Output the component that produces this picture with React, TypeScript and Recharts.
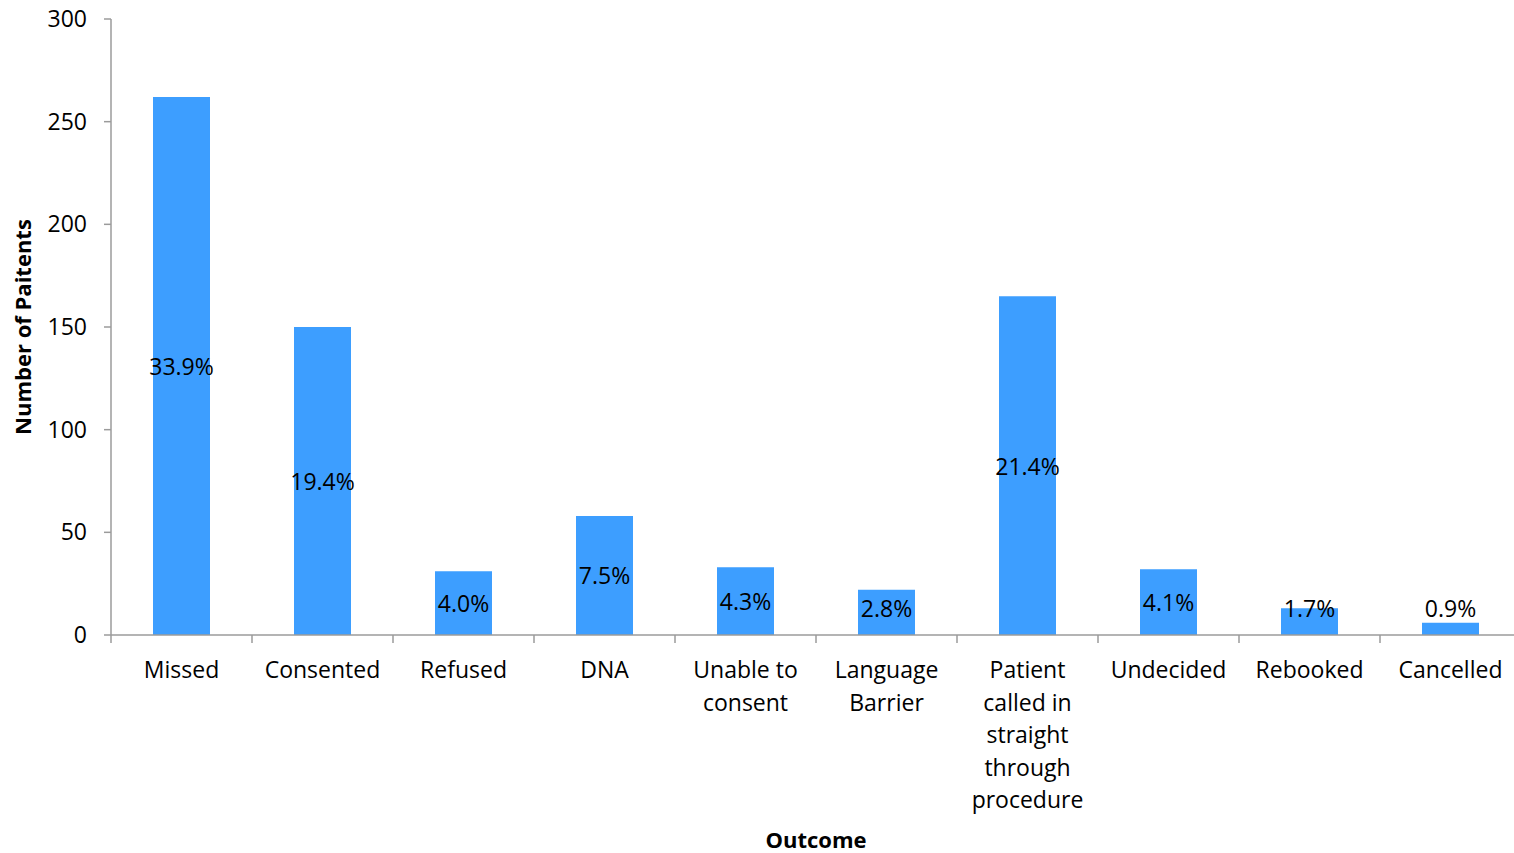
import { Bar, BarChart, LabelList, XAxis, YAxis, Label } from 'recharts'

const categories = [
  'Missed',
  'Consented',
  'Refused',
  'DNA',
  'Unable to\nconsent',
  'Language\nBarrier',
  'Patient\ncalled in\nstraight\nthrough\nprocedure',
  'Undecided',
  'Rebooked',
  'Cancelled',
]
const patients = [262, 150, 31, 58, 33, 22, 165, 32, 13, 6]
const percents = ['33.9%', '19.4%', '4.0%', '7.5%', '4.3%', '2.8%', '21.4%', '4.1%', '1.7%', '0.9%']
const yTicks = [0, 50, 100, 150, 200, 250, 300]

const data = categories.map((name, i) => ({ name, patients: patients[i], pct: percents[i] }))

const FONT = '"Open Sans", sans-serif'
const AXIS_GRAY = '#9b9b9b'
const BAR_BLUE = '#3d9eff'

function CategoryTick(props: any) {
  const { x, y, payload, index } = props
  const half = payload.offset ?? 0
  const lines = String(payload.value).split('\n')
  return (
    <g>
      <line x1={x - half} x2={x - half} y1={y} y2={y + 8} stroke={AXIS_GRAY} strokeWidth={1.5} />
      {index === categories.length - 1 && (
        <line x1={x + half} x2={x + half} y1={y} y2={y + 8} stroke={AXIS_GRAY} strokeWidth={1.5} />
      )}
      <text x={x} y={y + 43} textAnchor="middle" fontSize={23} fontFamily={FONT} fill="#000">
        {lines.map((l, i) => (
          <tspan key={i} x={x} dy={i === 0 ? 0 : 32.5}>
            {l}
          </tspan>
        ))}
      </text>
    </g>
  )
}

function PctLabel(props: any) {
  const { x, y, width, height, value } = props
  // centred in the bar, but kept clear of the axis for short bars
  const cy = Math.min(y + height / 2, y + height - 27)
  return (
    <text
      x={x + width / 2}
      y={cy}
      textAnchor="middle"
      dominantBaseline="central"
      fontSize={23}
      fontFamily={FONT}
      fill="#000"
    >
      {value}
    </text>
  )
}

export default function App() {
  return (
    <div style={{ position: 'absolute', left: 0, top: 0, background: '#fff', width: 1514, height: 853, overflow: 'hidden' }}>
      <BarChart
        width={1514}
        height={853}
        data={data}
        margin={{ top: 19, right: -7, left: 0, bottom: 0 }}
      >
        <XAxis
          dataKey="name"
          interval={0}
          height={218}
          axisLine={{ stroke: AXIS_GRAY, strokeWidth: 1.5 }}
          tickLine={false}
          tickSize={0}
          tickMargin={0}
          tick={<CategoryTick />}
        >
          <Label
            content={(p: any) => {
              const vb = p.viewBox
              return (
                <text
                  x={vb.x + vb.width / 2}
                  y={vb.y + 204}
                  textAnchor="middle"
                  dominantBaseline="central"
                  fontSize={22}
                  fontWeight="bold"
                  fontFamily={FONT}
                  fill="#000"
                >
                  Outcome
                </text>
              )
            }}
          />
        </XAxis>
        <YAxis
          width={111}
          domain={[0, 300]}
          ticks={yTicks}
          interval={0}
          tickSize={7}
          tickMargin={17}
          axisLine={{ stroke: AXIS_GRAY, strokeWidth: 1.5 }}
          tickLine={{ stroke: AXIS_GRAY, strokeWidth: 1.5 }}
          tick={{ fontSize: 23, fontFamily: FONT, fill: '#000' }}
        >
          <Label
            content={(p: any) => {
              const vb = p.viewBox
              const cx = 22
              const cy = vb.y + vb.height / 2
              return (
                <text
                  x={cx}
                  y={cy}
                  transform={`rotate(-90 ${cx} ${cy})`}
                  textAnchor="middle"
                  dominantBaseline="central"
                  fontSize={22}
                  fontWeight="bold"
                  fontFamily={FONT}
                  fill="#000"
                >
                  Number of Paitents
                </text>
              )
            }}
          />
        </YAxis>
        <Bar dataKey="patients" fill={BAR_BLUE} barSize={57} isAnimationActive={false}>
          <LabelList dataKey="pct" content={<PctLabel />} />
        </Bar>
      </BarChart>
    </div>
  )
}
